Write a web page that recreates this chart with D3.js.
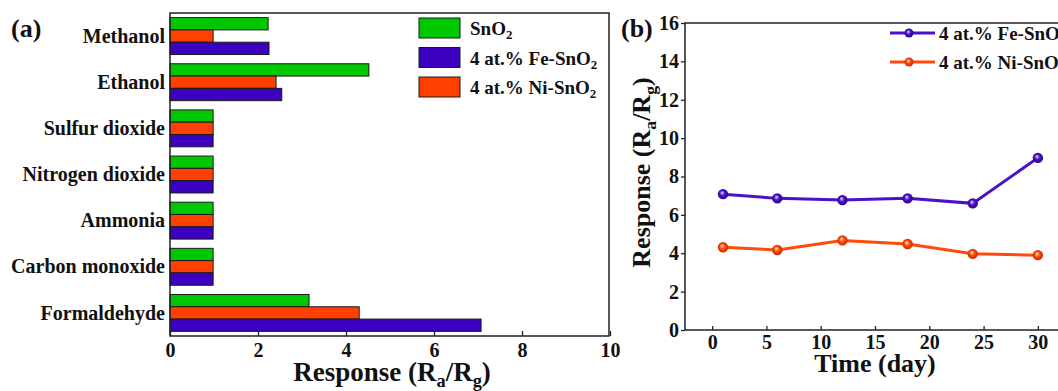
<!DOCTYPE html>
<html>
<head>
<meta charset="utf-8">
<script src="https://cdn.jsdelivr.net/npm/d3@7"></script>
<style>
  body { margin: 0; background: #fff; }
  svg text { font-family: "Liberation Serif", "Times New Roman", serif; font-weight: bold; fill: #111; }
</style>
</head>
<body>
<svg id="chart" width="1058" height="391"></svg>
<script>
// panel (a) data: gas response of each material
const gases = ['Methanol', 'Ethanol', 'Sulfur dioxide', 'Nitrogen dioxide', 'Ammonia', 'Carbon monoxide', 'Formaldehyde'];
const snO2Resp = [2.23, 4.52, 0.98, 0.98, 0.98, 0.98, 3.16];
const niResp   = [0.98, 2.41, 0.98, 0.98, 0.98, 0.98, 4.30];
const feResp   = [2.25, 2.54, 0.98, 0.98, 0.98, 0.98, 7.07];
const barTicks = [0, 2, 4, 6, 8, 10];

// panel (b) data: stability over time
const days     = [1, 6, 12, 18, 24, 30];
const feTime   = [7.08, 6.86, 6.77, 6.86, 6.60, 8.97];
const niTime   = [4.31, 4.17, 4.67, 4.48, 3.97, 3.90];
const dayTicks = [0, 5, 10, 15, 20, 25, 30];
const respTicks = [0, 2, 4, 6, 8, 10, 12, 14, 16];

const green  = '#00c800';
const red    = '#ff4000';
const blue   = '#3c00c0';
const purple = '#4a10cc';
const orange = '#ff4a0a';

const svg = d3.select('#chart');

// gradients for the ball markers
let defs = svg.append('defs');
[['ballFe', '#e8dcff', purple, '#2a0080'], ['ballNi', '#fff0c8', orange, '#c02800']].forEach(g => {
  let rg = defs.append('radialGradient').attr('id', g[0])
    .attr('cx', '0.5').attr('cy', '0.5').attr('r', '0.55')
    .attr('fx', '0.4').attr('fy', '0.35');
  rg.append('stop').attr('offset', '0%').attr('stop-color', g[1]);
  rg.append('stop').attr('offset', '45%').attr('stop-color', g[2]);
  rg.append('stop').attr('offset', '100%').attr('stop-color', g[3]);
});

// subscript helper: parts = [[text, isSub], ...]
function richText(sel, parts, size) {
  let shift = size * 0.22;
  let lastSub = false;
  parts.forEach(p => {
    let ts = sel.append('tspan').text(p[0]);
    if (p[1]) {
      ts.attr('font-size', size * 0.68).attr('dy', shift);
    } else if (lastSub) {
      ts.attr('dy', -shift);
    }
    lastSub = p[1];
  });
}

// ---------------- panel (a) ----------------
const a = { left: 170, right: 609, top: 13, bottom: 336 };

const xA = d3.scaleLinear().domain([0, 10]).range([a.left, a.left + 440]);
const yA = d3.scaleBand().domain(gases).range([a.top, a.bottom])
  .paddingInner(0.2).paddingOuter(0.1);
const series = [
  { key: 'sn', values: snO2Resp, color: green },
  { key: 'ni', values: niResp, color: red },
  { key: 'fe', values: feResp, color: blue }
];
const ySub = d3.scaleBand().domain(series.map(s => s.key)).range([0, yA.bandwidth()]);

let gA = svg.append('g');

let groups = gA.selectAll('.grp').data(gases).enter().append('g')
  .attr('class', 'grp')
  .attr('transform', d => `translate(0,${yA(d)})`);

groups.selectAll('rect')
  .data((d, i) => series.map(s => ({ key: s.key, v: s.values[i], color: s.color })))
  .enter().append('rect')
    .attr('x', xA(0))
    .attr('y', d => ySub(d.key))
    .attr('width', d => xA(d.v) - xA(0))
    .attr('height', ySub.bandwidth())
    .attr('fill', d => d.color)
    .attr('stroke', '#1a1a1a')
    .attr('stroke-width', 1);

// category labels
gA.selectAll('.cat').data(gases).enter().append('text')
  .attr('class', 'cat')
  .attr('x', a.left - 5)
  .attr('y', d => yA(d) + yA.bandwidth() / 2)
  .attr('dy', '0.33em')
  .attr('text-anchor', 'end')
  .attr('font-size', 20)
  .text(d => d);

// x axis
let axA = gA.append('g')
  .attr('transform', `translate(0,${a.bottom})`)
  .call(d3.axisBottom(xA).tickValues(barTicks).tickSize(-5).tickPadding(7));
axA.select('.domain').remove();
axA.selectAll('line').attr('stroke', '#222').attr('stroke-width', 1.3);
axA.selectAll('text').attr('font-size', 20).attr('font-family', null).attr('fill', '#111');

// frame
gA.append('rect')
  .attr('x', a.left).attr('y', a.top)
  .attr('width', a.right - a.left).attr('height', a.bottom - a.top)
  .attr('fill', 'none').attr('stroke', '#222').attr('stroke-width', 1.5);

// x title
let tA = gA.append('text').attr('x', 392).attr('y', 381)
  .attr('text-anchor', 'middle').attr('font-size', 27);
richText(tA, [['Response (R', false], ['a', true], ['/R', false], ['g', true], [')', false]], 27);

// legend
const legA = [
  { label: [['SnO', false], ['2', true]], color: green },
  { label: [['4 at.% Fe-SnO', false], ['2', true]], color: blue },
  { label: [['4 at.% Ni-SnO', false], ['2', true]], color: red }
];
let lg = gA.selectAll('.leg').data(legA).enter().append('g')
  .attr('class', 'leg')
  .attr('transform', (d, i) => `translate(419,${18 + i * 29.5})`);
lg.append('rect').attr('width', 41).attr('height', 20)
  .attr('fill', d => d.color).attr('stroke', '#1a1a1a').attr('stroke-width', 1);
lg.each(function(d) {
  let t = d3.select(this).append('text').attr('x', 51).attr('y', 17).attr('font-size', 19);
  richText(t, d.label, 19);
});

svg.append('text').attr('x', 11).attr('y', 37).attr('font-size', 26).text('(a)');

// ---------------- panel (b) ----------------
const b = { left: 685, right: 1065, top: 23, bottom: 330 };

const xB = d3.scaleLinear().domain([-2.5, 32.5]).range([b.left, b.right]);
const yB = d3.scaleLinear().domain([0, 16]).range([b.bottom, b.top]);

let gB = svg.append('g');

gB.append('rect')
  .attr('x', b.left).attr('y', b.top)
  .attr('width', b.right - b.left).attr('height', b.bottom - b.top)
  .attr('fill', 'none').attr('stroke', '#222').attr('stroke-width', 1.5);

let axBx = gB.append('g')
  .attr('transform', `translate(0,${b.bottom})`)
  .call(d3.axisBottom(xB).tickValues(dayTicks).tickSize(-4).tickPadding(5));
let axBy = gB.append('g')
  .attr('transform', `translate(${b.left},0)`)
  .call(d3.axisLeft(yB).tickValues(respTicks).tickSize(4).tickPadding(2));
[axBx, axBy].forEach(ax => {
  ax.select('.domain').remove();
  ax.selectAll('line').attr('stroke', '#222').attr('stroke-width', 1.3);
  ax.selectAll('text').attr('font-size', 20).attr('font-family', null).attr('fill', '#111');
});

const lines = [
  { values: feTime, color: purple, ball: 'url(#ballFe)', label: '4 at.% Fe-SnO' },
  { values: niTime, color: orange, ball: 'url(#ballNi)', label: '4 at.% Ni-SnO' }
];
const lineGen = d3.line().x(d => xB(d[0])).y(d => yB(d[1]));

lines.forEach(s => {
  let pts = days.map((d, i) => [d, s.values[i]]);
  gB.append('path').datum(pts)
    .attr('d', lineGen)
    .attr('fill', 'none')
    .attr('stroke', s.color)
    .attr('stroke-width', 3);
  gB.selectAll(null).data(pts).enter().append('circle')
    .attr('cx', d => xB(d[0]))
    .attr('cy', d => yB(d[1]))
    .attr('r', 5.2)
    .attr('fill', s.ball);
});

// legend (b)
let lgB = gB.selectAll('.legb').data(lines).enter().append('g')
  .attr('class', 'legb')
  .attr('transform', (d, i) => `translate(890,${33 + i * 29})`);
lgB.append('line').attr('x1', 0).attr('x2', 45)
  .attr('stroke', d => d.color).attr('stroke-width', 3);
lgB.append('circle').attr('cx', 19).attr('r', 4.5).attr('fill', d => d.ball);
lgB.each(function(d) {
  let t = d3.select(this).append('text').attr('x', 49).attr('y', 7).attr('font-size', 19);
  richText(t, [[d.label, false], ['2', true]], 19);
});

// axis titles (b)
gB.append('text').attr('x', (b.left + b.right) / 2).attr('y', 372)
  .attr('text-anchor', 'middle').attr('font-size', 26).text('Time (day)');
let tBy = gB.append('text')
  .attr('transform', `translate(650,${(b.top + b.bottom) / 2 - 4}) rotate(-90)`)
  .attr('text-anchor', 'middle').attr('font-size', 26);
richText(tBy, [['Response (R', false], ['a', true], ['/R', false], ['g', true], [')', false]], 26);

svg.append('text').attr('x', 621).attr('y', 37).attr('font-size', 26).text('(b)');
</script>
</body>
</html>
